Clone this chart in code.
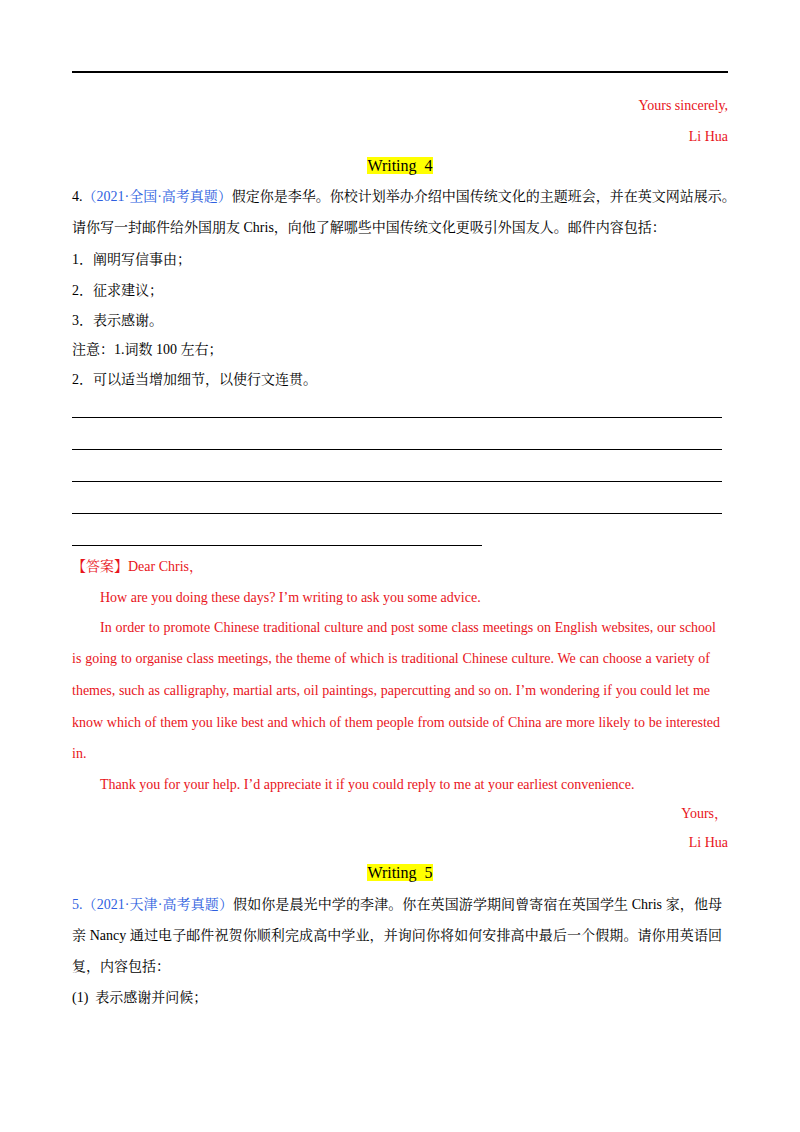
<!DOCTYPE html>
<html><head><meta charset="utf-8">
<script src="https://cdn.jsdelivr.net/npm/chart.js@4"></script>
<style>
body{margin:0;width:800px;height:1132px;background:#fff;position:relative;font-family:"Liberation Serif","Noto Serif CJK SC","Noto Sans CJK SC",serif;font-size:14px;color:#000}
.l{position:absolute;height:20px;line-height:20px;white-space:nowrap}
.j{text-align:justify;text-align-last:justify}
.red{color:#e8141b}.blue{color:#2f5fe0}
.hl{background:#ffff00;font-size:16px}
.rule{position:absolute;left:72px;border-top:1px solid #000}
</style></head><body>
<div class="rule" style="top:71px;width:656px;border-top-width:2px"></div>
<div id="page"></div>
<script>
/* text lines: [centerY, left, right|null, align, class, html] */
const lineYs   = [106,137,166,197,228,260,291,321,350,380];
const ruleYs   = [417,449,481,513,545];
const ruleEnds = [722,722,722,722,482];
const lines = [
  [106,0,728,'right','red','Yours sincerely,'],
  [137,0,728,'right','red','Li Hua'],
  [166,0,800,'center','','<span class="hl">Writing&nbsp; 4</span>'],
  [197,72,728,'j','','4.<span class="blue">（2021·全国·高考真题）</span>假定你是李华。你校计划举办介绍中国传统文化的主题班会，并在英文网站展示。'],
  [228,72,null,'left','','请你写一封邮件给外国朋友 Chris，向他了解哪些中国传统文化更吸引外国友人。邮件内容包括：'],
  [260,72,null,'left','','1．阐明写信事由；'],
  [291,72,null,'left','','2．征求建议；'],
  [321,72,null,'left','','3．表示感谢。'],
  [350,72,null,'left','','注意：1.词数 100 左右；'],
  [380,72,null,'left','','2．可以适当增加细节，以使行文连贯。'],
  [567,72,null,'left','red','【答案】Dear Chris，'],
  [598,100,null,'left','red','How are you doing these days? I’m writing to ask you some advice.'],
  [628,100,716,'j','red','In order to promote Chinese traditional culture and post some class meetings on English websites, our school'],
  [659,72,710,'j','red','is going to organise class meetings, the theme of which is traditional Chinese culture. We can choose a variety of'],
  [691,72,710,'j','red','themes, such as calligraphy, martial arts, oil paintings, papercutting and so on. I’m wondering if you could let me'],
  [723,72,720,'j','red','know which of them you like best and which of them people from outside of China are more likely to be interested'],
  [754,72,null,'left','red','in.'],
  [785,100,null,'left','red','Thank you for your help. I’d appreciate it if you could reply to me at your earliest convenience.'],
  [814,0,728,'right','red','Yours，'],
  [843,0,728,'right','red','Li Hua'],
  [873,0,800,'center','','<span class="hl">Writing&nbsp; 5</span>'],
  [905,72,722,'j','','<span class="blue">5.（2021·天津·高考真题）</span>假如你是晨光中学的李津。你在英国游学期间曾寄宿在英国学生 Chris 家，他母'],
  [936,72,722,'j','','亲 Nancy 通过电子邮件祝贺你顺利完成高中学业，并询问你将如何安排高中最后一个假期。请你用英语回'],
  [967,72,null,'left','','复，内容包括：'],
  [998,72,null,'left','','(1)&nbsp; 表示感谢并问候；']
];
const page = document.getElementById('page');
lines.forEach(([y,l,r,a,c,h])=>{
  const d=document.createElement('div');
  d.className='l '+(a==='j'?'j ':'')+c;
  d.style.top=(y-10)+'px';
  d.style.left=l+'px';
  if(r!==null){d.style.width=(r-l)+'px';}
  if(a==='right'||a==='center')d.style.textAlign=a;
  d.innerHTML=h;
  page.appendChild(d);
});
ruleYs.forEach((y,i)=>{
  const d=document.createElement('div');
  d.className='rule';d.style.top=y+'px';d.style.width=(ruleEnds[i]-72)+'px';
  page.appendChild(d);
});
</script>
</body></html>
